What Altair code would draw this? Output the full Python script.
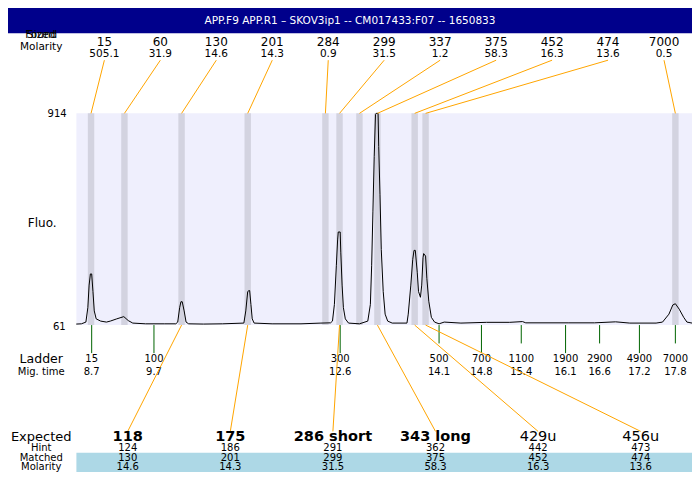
import altair as alt
import pandas as pd

# ---------------- data ----------------
title_text = "APP.F9  APP.R1 \u2013 SKOV3ip1 -- CM017433:F07 -- 1650833"

trace_time = [8.47, 8.55, 8.62, 8.65, 8.67, 8.69, 8.71, 8.73, 8.75, 8.78,
              8.85, 8.94, 9.00, 9.10, 9.21, 9.28, 9.35, 9.55, 9.84, 10.02,
              10.05, 10.08, 10.10, 10.12, 10.15, 10.18, 10.22, 10.45, 10.75, 11.08,
              11.11, 11.14, 11.16, 11.17, 11.19, 11.21, 11.24, 11.52, 11.97, 12.28,
              12.43, 12.46, 12.49, 12.52, 12.54, 12.55, 12.58, 12.59, 12.61, 12.63,
              12.66, 12.71, 12.88, 13.01, 13.05, 13.07, 13.09, 13.11, 13.13, 13.14,
              13.17, 13.18, 13.20, 13.22, 13.25, 13.28, 13.32, 13.39, 13.62, 13.64,
              13.68, 13.71, 13.73, 13.75, 13.78, 13.80, 13.83, 13.85, 13.87, 13.88,
              13.91, 13.93, 13.96, 14.00, 14.05, 14.12, 14.20, 14.46, 14.86, 15.22,
              15.42, 15.47, 16.13, 16.54, 16.87, 17.09, 17.50, 17.60, 17.70, 17.76,
              17.80, 17.86, 17.93, 17.98, 18.06]
trace_fluo = [65, 66, 73, 131, 222, 267, 267, 196, 118, 86,
              77, 73, 77, 86, 95, 79, 69, 66, 66, 66,
              73, 131, 155, 155, 118, 73, 66, 65, 66, 69,
              118, 196, 200, 200, 144, 86, 69, 66, 66, 69,
              70, 77, 144, 300, 404, 436, 436, 352, 222, 131,
              86, 69, 66, 77, 144, 300, 520, 741, 910, 914,
              914, 780, 586, 365, 196, 105, 77, 69, 69, 105,
              222, 326, 362, 362, 274, 196, 173, 222, 332, 349,
              339, 248, 157, 92, 73, 66, 73, 69, 72, 72,
              75, 70, 70, 70, 74, 69, 69, 73, 105, 142,
              147, 125, 92, 73, 69]

found_size = ["15", "60", "130", "201", "284", "299", "337", "375", "452", "474", "7000"]
found_molarity = ["505.1", "31.9", "14.6", "14.3", "0.9", "31.5", "1.2", "58.3", "16.3", "13.6", "0.5"]
found_time = [8.70, 9.22, 10.11, 11.14, 12.35, 12.57, 12.88, 13.16, 13.74, 13.91, 17.80]

ladder_size = ["15", "100", "300", "500", "700", "1100", "1900", "2900", "4900", "7000"]
ladder_time = [8.71, 9.68, 12.58, 14.12, 14.78, 15.40, 16.09, 16.62, 17.24, 17.80]
ladder_mig = ["8.7", "9.7", "12.6", "14.1", "14.8", "15.4", "16.1", "16.6", "17.2", "17.8"]
ladder_long = [True, True, True, False, True, False, True, False, True, False]

expected_label = ["118", "175", "286 short", "343 long", "429u", "456u"]
expected_bold = [True, True, True, True, False, False]
hint = ["124", "186", "291", "362", "442", "473"]
matched = ["130", "201", "299", "375", "452", "474"]
matched_molarity = ["14.6", "14.3", "31.5", "58.3", "16.3", "13.6"]
matched_time = [10.11, 11.14, 12.57, 13.16, 13.74, 13.91]

Y_MIN, Y_MAX = 61, 914
T_MIN, T_MAX = 8.472, 18.059

# ---------------- layout ----------------
W, H = 684, 464
SX, SY = W / 700.0, H / 480.0
FONT = "DejaVu Sans"


def px(v):
    return v * SX


def py(v):
    return v * SY


XS = alt.Scale(domain=[T_MIN, T_MAX], range=[px(70), px(700)], nice=False, zero=False)
YS = alt.Scale(domain=[Y_MIN, Y_MAX], range=[py(328), py(109)], nice=False, zero=False, clamp=True)

dummy = pd.DataFrame({"a": [0]})


def xq(field):
    return alt.X(f"{field}:Q", scale=XS, axis=None)


def text_at(txt, x, y, size, align="center", weight="normal", color="black"):
    return alt.Chart(dummy).mark_text(
        text=txt, fontSize=size, align=align, baseline="middle",
        font=FONT, fontWeight=weight, color=color
    ).encode(x=alt.value(px(x)), y=alt.value(py(y)))


def rect_at(x0, x1, y0, y1, color):
    return alt.Chart(dummy).mark_rect(color=color).encode(
        x=alt.value(px(x0)), x2=alt.value(px(x1)),
        y=alt.value(py(y0)), y2=alt.value(py(y1)))


# data frames
trace_df = pd.DataFrame({"t": trace_time, "f": trace_fluo})

n_found = len(found_size)
found_df = pd.DataFrame({
    "size": found_size, "mol": found_molarity, "t": found_time,
    "lt": [T_MIN + (i + 0.5) / n_found * (T_MAX - T_MIN) for i in range(n_found)],
})

ladder_df = pd.DataFrame({"size": ladder_size, "t": ladder_time,
                          "mig": ladder_mig, "long": ladder_long})

n_exp = len(expected_label)
exp_df = pd.DataFrame({
    "label": expected_label, "bold": expected_bold, "hint": hint,
    "matched": matched, "mol": matched_molarity, "t": matched_time,
    "et": [T_MIN + (i + 0.5) / n_exp * (T_MAX - T_MIN) for i in range(n_exp)],
})

layers = []

# title bar
layers.append(rect_at(0, 700, 0, 26, "#00008B"))
layers.append(text_at(title_text, 350, 13, 10.5, color="white"))

# plot background
layers.append(rect_at(70, 700, 109, 328, "#EFEFFD"))

# found peak bands
layers.append(
    alt.Chart(found_df).transform_calculate(t0="datum.t - 0.05", t1="datum.t + 0.05")
    .mark_rect(color="#D3D3E0")
    .encode(x=xq("t0"), x2="t1:Q", y=alt.value(py(109)), y2=alt.value(py(328)))
)

# trace
layers.append(
    alt.Chart(trace_df).mark_line(color="black", strokeWidth=1)
    .encode(x=xq("t"), y=alt.Y("f:Q", scale=YS, axis=None))
)

# top labels
layers.append(
    alt.Chart(found_df).mark_text(fontSize=12, font=FONT, baseline="middle", color="black")
    .encode(x=xq("lt"), y=alt.value(py(35)), text="size:N")
)
layers.append(
    alt.Chart(found_df).mark_text(fontSize=10.5, font=FONT, baseline="middle", color="black")
    .encode(x=xq("lt"), y=alt.value(py(47.5)), text="mol:N")
)
layers.append(
    alt.Chart(found_df).mark_rule(color="#FFA500", strokeWidth=1)
    .encode(x=xq("lt"), x2="t:Q", y=alt.value(py(54)), y2=alt.value(py(109)))
)

# ladder ticks
layers.append(
    alt.Chart(ladder_df).transform_filter("datum.long")
    .mark_rule(color="#006400", strokeWidth=1)
    .encode(x=xq("t"), y=alt.value(py(328)), y2=alt.value(py(357)))
)
layers.append(
    alt.Chart(ladder_df).transform_filter("!datum.long")
    .mark_rule(color="#006400", strokeWidth=1)
    .encode(x=xq("t"), y=alt.value(py(328)), y2=alt.value(py(347)))
)
layers.append(
    alt.Chart(ladder_df).mark_text(fontSize=10, font=FONT, baseline="middle", color="black")
    .encode(x=xq("t"), y=alt.value(py(363)), text="size:N")
)
layers.append(
    alt.Chart(ladder_df).mark_text(fontSize=10, font=FONT, baseline="middle", color="black")
    .encode(x=xq("t"), y=alt.value(py(377)), text="mig:N")
)

# bottom table band
layers.append(rect_at(70, 700, 460, 480, "#ADD8E6"))

# bottom orange connectors
layers.append(
    alt.Chart(exp_df).mark_rule(color="#FFA500", strokeWidth=1)
    .encode(x=xq("et"), x2="t:Q", y=alt.value(py(438)), y2=alt.value(py(328)))
)

# expected labels
layers.append(
    alt.Chart(exp_df).transform_filter("datum.bold")
    .mark_text(fontSize=14.5, font=FONT, fontWeight="bold", baseline="middle", color="black")
    .encode(x=xq("et"), y=alt.value(py(443.5)), text="label:N")
)
layers.append(
    alt.Chart(exp_df).transform_filter("!datum.bold")
    .mark_text(fontSize=14.5, font=FONT, baseline="middle", color="black")
    .encode(x=xq("et"), y=alt.value(py(443.5)), text="label:N")
)
for field, yy in [("hint", 455), ("matched", 465.5), ("mol", 474.5)]:
    layers.append(
        alt.Chart(exp_df).mark_text(fontSize=10, font=FONT, baseline="middle", color="black")
        .encode(x=xq("et"), y=alt.value(py(yy)), text=f"{field}:N")
    )

# left side labels
layers.append(text_at("Found", 34, 27.5, 10.5))
layers.append(text_at("Sized", 34, 27.5, 10.5))
layers.append(text_at("Molarity", 34, 40.5, 10.5))
layers.append(text_at("914", 60, 110, 10, align="right"))
layers.append(text_at("Fluo.", 35, 222, 12))
layers.append(text_at("61", 59, 330, 10, align="right"))
layers.append(text_at("Ladder", 34, 363, 12.5))
layers.append(text_at("Mig. time", 34, 376.5, 10))
layers.append(text_at("Expected", 34, 443.5, 13))
layers.append(text_at("Hint", 34, 455, 10))
layers.append(text_at("Matched", 34, 465.5, 10))
layers.append(text_at("Molarity", 34, 474.5, 10))

chart = alt.layer(*layers).properties(
    width=W, height=H, padding=0,
    autosize=alt.AutoSizeParams(type="none"),
    background="white",
).configure_view(strokeWidth=0)

chart.save("out.html", embed_options={"renderer": "svg", "actions": False})
